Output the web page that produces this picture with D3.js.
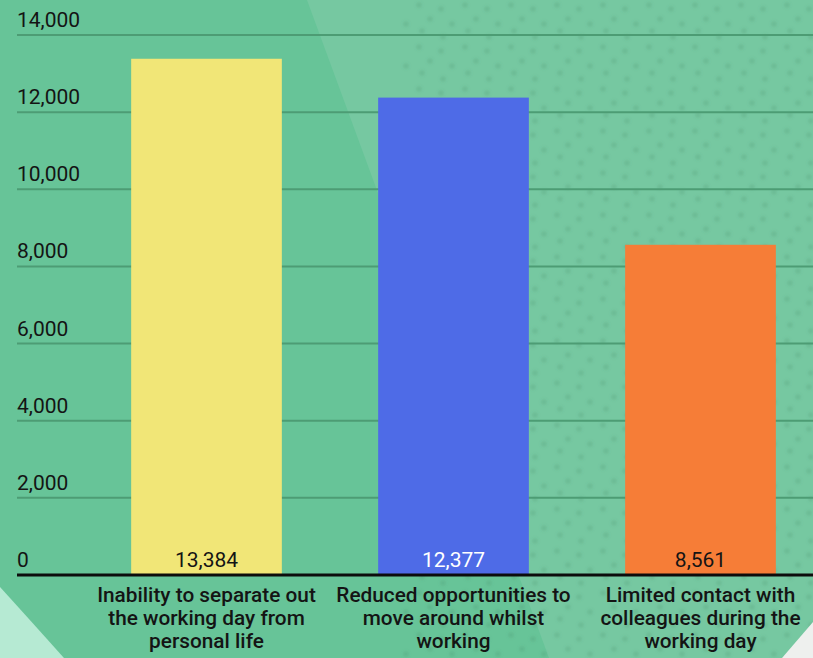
<!DOCTYPE html>
<html>
<head>
<meta charset="utf-8">
<script src="https://cdn.jsdelivr.net/npm/d3@7"></script>
<style>
  html, body { margin: 0; padding: 0; background: #67c498; }
  svg { display: block; }
  text { font-family: Roboto, "Noto Sans", sans-serif; }
</style>
</head>
<body>
<svg id="chart" width="813" height="658"></svg>
<script>
// Reported downsides of working from home (number of respondents)
const categories = [
  ["Inability to separate out", "the working day from", "personal life"],
  ["Reduced opportunities to", "move around whilst", "working"],
  ["Limited contact with", "colleagues during the", "working day"]
];
const values = [13384, 12377, 8561];
const barColors = ["#f1e677", "#4e6be7", "#f67d37"];
const valueLabelColors = ["#141414", "#ffffff", "#141414"];
const yTicks = [0, 2000, 4000, 6000, 8000, 10000, 12000, 14000];

const W = 813, H = 658;
const svg = d3.select("#chart");

// ---- decorative background ----
const defs = svg.append("defs");
const pat = defs.append("pattern")
  .attr("id", "dots").attr("patternUnits", "userSpaceOnUse")
  .attr("width", 46).attr("height", 42);
[[5, 5], [27, 9], [16, 19], [38, 24], [8, 31], [29, 37]].forEach(([cx, cy]) => {
  pat.append("circle").attr("cx", cx).attr("cy", cy).attr("r", 2.8)
    .attr("fill", "rgba(55,130,95,0.2)");
});
defs.append("filter").attr("id", "soft").append("feGaussianBlur").attr("stdDeviation", 1.5);

svg.append("rect").attr("width", W).attr("height", H).attr("fill", "#67c498");
svg.append("path")
  .attr("d", "M307,0 L813,0 L813,658 L549,658 Z")
  .attr("fill", "#76c8a1");
svg.append("rect")
  .attr("x", 400).attr("y", 0).attr("width", W - 400).attr("height", H)
  .attr("fill", "url(#dots)").attr("filter", "url(#soft)");
svg.append("path")
  .attr("d", "M0,587 Q30,620 64,658 L0,658 Z")
  .attr("fill", "#b6ead3");
svg.append("path")
  .attr("d", "M813,622 L813,658 L782,658 Z")
  .attr("fill", "#eef0ee");

// ---- scales ----
const y = d3.scaleLinear().domain([0, 14000]).range([575, 35]);
const x = d3.scaleBand().domain(d3.range(values.length))
  .range([83, 824]).paddingInner(0.39).paddingOuter(0.195);

// gridlines
svg.append("g")
  .selectAll("line").data(yTicks.filter(t => t > 0)).join("line")
  .attr("x1", 17).attr("x2", W)
  .attr("y1", d => y(d)).attr("y2", d => y(d))
  .attr("stroke", "#4d9c74").attr("stroke-width", 2);

// y tick labels
svg.append("g")
  .selectAll("text").data(yTicks).join("text")
  .attr("x", 17).attr("y", d => y(d) - 8)
  .attr("font-size", 21).attr("fill", "#141414")
  .text(d => d3.format(",")(d));

// bars
svg.append("g")
  .selectAll("rect").data(values).join("rect")
  .attr("x", (d, i) => x(i)).attr("width", x.bandwidth())
  .attr("y", d => y(d)).attr("height", d => y(0) - y(d))
  .attr("fill", (d, i) => barColors[i]);

// value labels at the bar foot
svg.append("g")
  .selectAll("text").data(values).join("text")
  .attr("x", (d, i) => x(i) + x.bandwidth() / 2).attr("y", y(0) - 8)
  .attr("text-anchor", "middle").attr("font-size", 21)
  .attr("fill", (d, i) => valueLabelColors[i])
  .text(d => d3.format(",")(d));

// baseline
svg.append("line")
  .attr("x1", 17).attr("x2", W).attr("y1", y(0)).attr("y2", y(0))
  .attr("stroke", "#0c0c0c").attr("stroke-width", 3);

// category labels
const catG = svg.append("g");
categories.forEach((lines, i) => {
  const t = catG.append("text")
    .attr("x", x(i) + x.bandwidth() / 2).attr("y", 601.5)
    .attr("text-anchor", "middle").attr("font-size", 20.8)
    .attr("font-weight", 500).attr("fill", "#141414");
  lines.forEach((ln, k) => {
    t.append("tspan").attr("x", x(i) + x.bandwidth() / 2)
      .attr("dy", k === 0 ? 0 : 23.3).text(ln);
  });
});
</script>
</body>
</html>
